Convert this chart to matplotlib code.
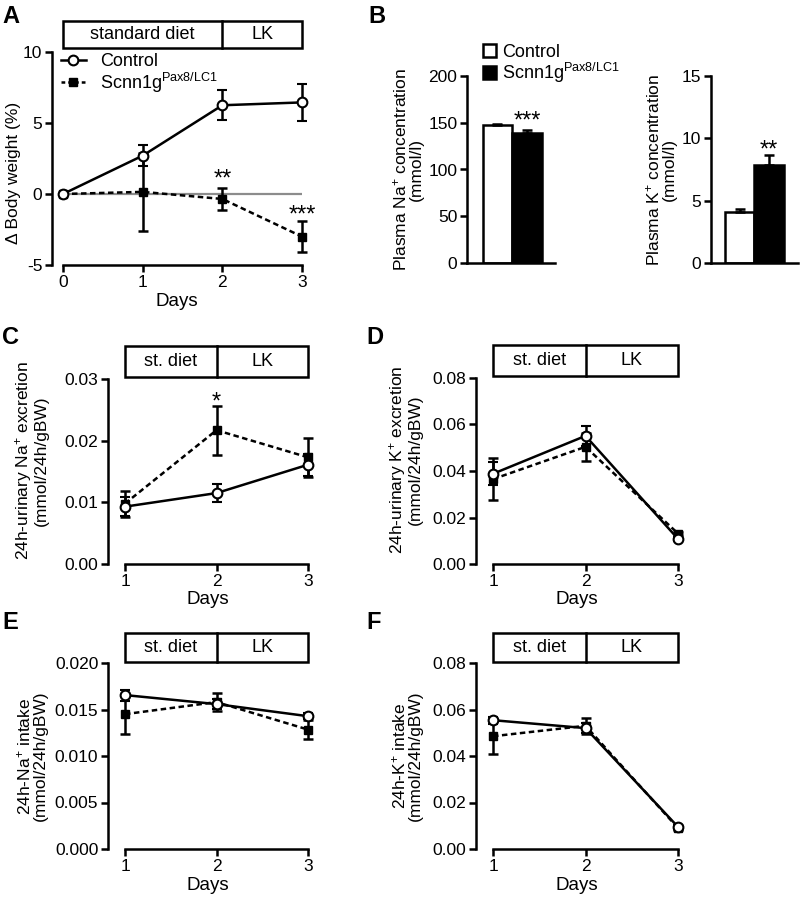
import matplotlib
matplotlib.use("Agg")
import matplotlib.pyplot as plt
import matplotlib.transforms as mtransforms
from matplotlib.patches import Rectangle, Patch
from matplotlib.lines import Line2D

plt.rcParams['font.family'] = ['Liberation Sans', 'DejaVu Sans']
plt.rcParams['axes.unicode_minus'] = False
plt.rcParams['mathtext.fontset'] = 'custom'
plt.rcParams['mathtext.rm'] = 'Liberation Sans'
plt.rcParams['mathtext.it'] = 'Liberation Sans:italic'
plt.rcParams['mathtext.bf'] = 'Liberation Sans:bold'
plt.rcParams['mathtext.default'] = 'regular'

# ---- data ----
groups = ['Control', 'Scnn1g$^{Pax8/LC1}$']

# A: body weight change
bw_days = [0, 1, 2, 3]
bw_ctrl = [0.0, 2.7, 6.25, 6.45]
bw_ctrl_err = [0.0, 0.73, 1.06, 1.3]
bw_ko = [0.0, 0.15, -0.35, -3.0]
bw_ko_err = [0.0, 2.75, 0.78, 1.07]
bw_stars = ['', '', '**', '***']
bw_star_y = [None, None, 1.55, -1.0]

# B: plasma electrolytes
na_plasma = [147.5, 138.8]
na_plasma_err = [1.5, 3.4]
k_plasma = [4.1, 7.9]
k_plasma_err = [0.2, 0.75]

days = [1, 2, 3]
# C: urinary Na+
una_ctrl = [0.0093, 0.0115, 0.0161]
una_ctrl_err = [0.0015, 0.0014, 0.0018]
una_ko = [0.0098, 0.0217, 0.0173]
una_ko_err = [0.0021, 0.0040, 0.0032]
# D: urinary K+
uk_ctrl = [0.0388, 0.0551, 0.0108]
uk_ctrl_err = [0.0050, 0.0043, 0.0010]
uk_ko = [0.0365, 0.0504, 0.0131]
uk_ko_err = [0.0090, 0.0060, 0.0008]
# E: Na+ intake
ina_ctrl = [0.01655, 0.01558, 0.01428]
ina_ctrl_err = [0.0006, 0.0005, 0.0003]
ina_ko = [0.0145, 0.0158, 0.01284]
ina_ko_err = [0.0021, 0.0010, 0.0010]
# F: K+ intake
ik_ctrl = [0.0554, 0.0520, 0.0095]
ik_ctrl_err = [0.0015, 0.0020, 0.0008]
ik_ko = [0.0485, 0.0530, 0.0090]
ik_ko_err = [0.0075, 0.0035, 0.0008]

W, H = 800, 900
LW = 1.8
FS = 12.5

fig = plt.figure(figsize=(W / 100, H / 100), dpi=100)


def add_ax(left, right, top, bottom):
    return fig.add_axes([left / W, 1 - bottom / H, (right - left) / W, (bottom - top) / H])


def style(ax, yticks, xbounds=None):
    for s in ['top', 'right']:
        ax.spines[s].set_visible(False)
    for s in ['left', 'bottom']:
        ax.spines[s].set_linewidth(LW)
    if xbounds is not None:
        ax.spines['bottom'].set_bounds(*xbounds)
    ax.set_yticks(yticks)
    ax.set_ylim(yticks[0], yticks[-1])
    ax.tick_params(width=LW, length=5, labelsize=FS, pad=2)


def line_panel(left, right, top, bottom, first_px, x, ctrl, ctrl_err, ko, ko_err, yticks, fmt):
    ax = add_ax(left, right, top, bottom)
    x0, x1 = x[0], x[-1]
    ax.set_xlim(x0 - (first_px - left) / (right - first_px) * (x1 - x0), x1)
    style(ax, yticks, (x0, x1))
    ax.set_xticks(x)
    ax.yaxis.set_major_formatter(plt.FormatStrFormatter(fmt))
    ax.errorbar(x, ko, yerr=ko_err, color='k', ls='--', dashes=(2.2, 1.4), lw=LW,
                marker='s', ms=5.5, mfc='k', mec='k', capsize=3.5, capthick=LW,
                elinewidth=LW, zorder=3, clip_on=False)
    ax.errorbar(x, ctrl, yerr=ctrl_err, color='k', ls='-', lw=LW,
                marker='o', ms=7, mfc='white', mec='k', mew=1.5, capsize=3.5,
                capthick=LW, elinewidth=LW, zorder=4, clip_on=False)
    ax.set_xlabel('Days', fontsize=13.5, labelpad=2)
    return ax


def diet_box(ax, x0, xs, x1, labels, gap_px, h_px):
    ah = ax.get_position().height * H
    trans = mtransforms.blended_transform_factory(ax.transData, ax.transAxes)
    yb = 1 + gap_px / ah
    hh = h_px / ah
    ax.add_patch(Rectangle((x0, yb), x1 - x0, hh, transform=trans, fill=False,
                           lw=LW, ec='k', clip_on=False))
    ax.plot([xs, xs], [yb, yb + hh], transform=trans, color='k', lw=LW, clip_on=False)
    ax.text((x0 + xs) / 2, yb + hh / 2, labels[0], transform=trans, ha='center',
            va='center', fontsize=13)
    ax.text((xs + x1) / 2, yb + hh / 2, labels[1], transform=trans, ha='center',
            va='center', fontsize=13)


def star(ax, x, y, s, fs=17):
    ax.annotate(s, (x, y), xytext=(0, -0.57 * fs), textcoords='offset points',
                ha='center', va='baseline', fontsize=fs)


def ylabel(ax, text, px_right, frac_y=0.5):
    # px_right: pixel x of the right edge of the (rotated) label block
    pos = ax.get_position()
    ax.set_ylabel(text, fontsize=12.5, linespacing=1.0)
    ax.yaxis.set_label_coords((px_right / W - pos.x0) / pos.width, frac_y)


def letter(s, px_x, px_y):
    fig.text(px_x / W, 1 - px_y / H, s, fontsize=17, fontweight='bold', ha='left', va='top')


# ---- A ----
axA = line_panel(52, 302, 52, 265, 63, bw_days, bw_ctrl, bw_ctrl_err, bw_ko, bw_ko_err,
                 [-5, 0, 5, 10], '%d')
axA.plot([bw_days[0], bw_days[-1]], [0, 0], color='#8c8c8c', lw=1.6, zorder=1)
diet_box(axA, 0, 2, 3, ['standard diet', 'LK'], 4, 27)
for d, s, yy in zip(bw_days, bw_stars, bw_star_y):
    if s:
        star(axA, d, yy, s)
ylabel(axA, '\u0394 Body weight (%)', 21, 0.43)
handles = [Line2D([], [], color='k', ls='-', lw=LW, marker='o', ms=7, mfc='white', mec='k', mew=1.5),
           Line2D([], [], color='k', ls='--', dashes=(1.5, 1.2), lw=LW, marker='s', ms=5.5, mfc='k')]
axA.legend(handles, groups, loc='upper left', bbox_to_anchor=(0.02, 1.01), frameon=False,
           fontsize=13, handlelength=1.4, handletextpad=0.8, labelspacing=0.0,
           borderpad=0.2, borderaxespad=0)

# ---- B ----
axB1 = add_ax(467, 555, 76, 263)
axB1.set_xlim(-1.03, 1.95)
style(axB1, [0, 50, 100, 150, 200])
axB1.set_xticks([])
axB1.bar([0, 1], na_plasma, width=1, color=['white', 'black'], edgecolor='k', lw=LW,
         yerr=[[0, 0], na_plasma_err], error_kw=dict(capsize=3.5, capthick=LW, elinewidth=LW))
star(axB1, 1, 159, '***')
ylabel(axB1, 'Plasma Na$^{+}$ concentration\n(mmol/l)', 424)
axB1.legend([Patch(fc='white', ec='k', lw=LW), Patch(fc='black', ec='k', lw=LW)], groups,
            loc='upper left', bbox_to_anchor=(0.14, 1.19), frameon=False, fontsize=13,
            handlelength=0.75, handleheight=0.75, handletextpad=0.3, labelspacing=0.0,
            borderpad=0.2, borderaxespad=0)

axB2 = add_ax(711, 798, 76, 263)
axB2.set_xlim(-0.97, 1.98)
style(axB2, [0, 5, 10, 15])
axB2.set_xticks([])
axB2.bar([0, 1], k_plasma, width=1, color=['white', 'black'], edgecolor='k', lw=LW,
         yerr=[[0, 0], k_plasma_err], error_kw=dict(capsize=3.5, capthick=LW, elinewidth=LW))
star(axB2, 1, 9.63, '**')
ylabel(axB2, 'Plasma K$^{+}$ concentration\n(mmol/l)', 677)

# ---- C ----
axC = line_panel(108, 308, 379, 564, 125, days, una_ctrl, una_ctrl_err, una_ko, una_ko_err,
                 [0, 0.01, 0.02, 0.03], '%.2f')
diet_box(axC, 1, 2, 3, ['st. diet', 'LK'], 2, 31)
star(axC, 2, 0.0274, '*')
ylabel(axC, '24h-urinary Na$^{+}$ excretion\n(mmol/24h/gBW)', 49, 0.56)

# ---- D ----
axD = line_panel(476, 678, 378, 564, 493, days, uk_ctrl, uk_ctrl_err, uk_ko, uk_ko_err,
                 [0, 0.02, 0.04, 0.06, 0.08], '%.2f')
diet_box(axD, 1, 2, 3, ['st. diet', 'LK'], 2, 31)
ylabel(axD, '24h-urinary K$^{+}$ excretion\n(mmol/24h/gBW)', 423, 0.56)

# ---- E ----
axE = line_panel(108, 308, 663, 849, 125, days, ina_ctrl, ina_ctrl_err, ina_ko, ina_ko_err,
                 [0, 0.005, 0.010, 0.015, 0.020], '%.3f')
diet_box(axE, 1, 2, 3, ['st. diet', 'LK'], 1, 29)
ylabel(axE, '24h-Na$^{+}$ intake\n(mmol/24h/gBW)', 48)

# ---- F ----
axF = line_panel(476, 678, 663, 849, 493, days, ik_ctrl, ik_ctrl_err, ik_ko, ik_ko_err,
                 [0, 0.02, 0.04, 0.06, 0.08], '%.2f')
diet_box(axF, 1, 2, 3, ['st. diet', 'LK'], 1, 29)
ylabel(axF, '24h-K$^{+}$ intake\n(mmol/24h/gBW)', 423)

letter('A', 2, 5)
letter('B', 368, 5)
letter('C', 2, 326)
letter('D', 366, 326)
letter('E', 2, 611)
letter('F', 366, 611)

fig.savefig('out.png', dpi=100, facecolor='white')
